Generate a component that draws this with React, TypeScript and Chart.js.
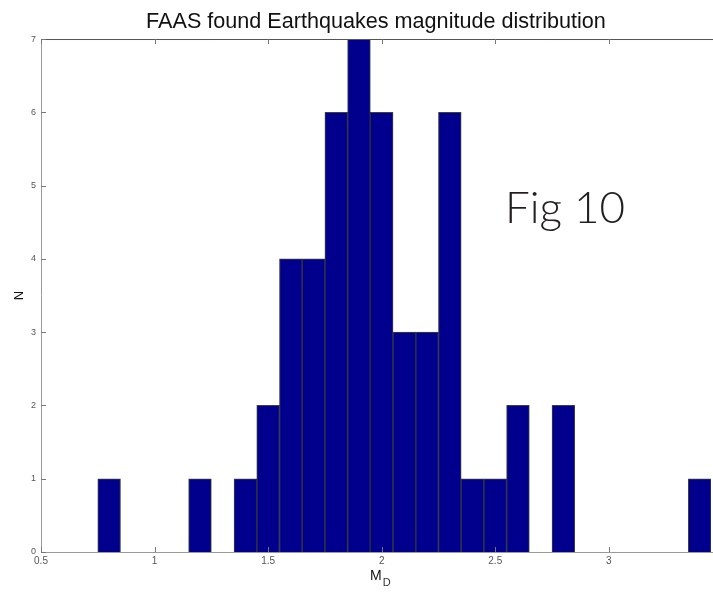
import React, { useEffect, useRef } from "react";
import { Chart, registerables } from "chart.js";

Chart.register(...registerables);

const binCenters = [0.8, 0.9, 1.0, 1.1, 1.2, 1.3, 1.4, 1.5, 1.6, 1.7, 1.8, 1.9, 2.0, 2.1, 2.2, 2.3, 2.4, 2.5, 2.6, 2.7, 2.8, 2.9, 3.0, 3.1, 3.2, 3.3, 3.4];
const counts = [1, 0, 0, 0, 1, 0, 1, 2, 4, 4, 6, 7, 6, 3, 3, 6, 1, 1, 2, 0, 2, 0, 0, 0, 0, 0, 1];
const xTicks = [0.5, 1, 1.5, 2, 2.5, 3];
const yTicks = [0, 1, 2, 3, 4, 5, 6, 7];
const titleText = "FAAS found Earthquakes magnitude distribution";
const yLabel = "N";
const xLabelMain = "M";
const xLabelSub = "D";
const annotationText = "Fig 10";

const X_MIN = 0.5;
const X_MAX = 3.45;

const decorPlugin = {
  id: "decor",
  afterDatasetsDraw(chart: any) {
    const { ctx, chartArea, scales } = chart;
    const { left, right, top, bottom } = chartArea;
    ctx.save();
    // box lines
    ctx.lineWidth = 1;
    ctx.strokeStyle = "#9a9a9a";
    ctx.beginPath();
    ctx.moveTo(left + 0.5, top);
    ctx.lineTo(left + 0.5, bottom);
    ctx.moveTo(left, bottom + 0.5);
    ctx.lineTo(chart.width, bottom + 0.5);
    ctx.stroke();
    ctx.strokeStyle = "#555555";
    ctx.beginPath();
    ctx.moveTo(left, top + 0.5);
    ctx.lineTo(chart.width, top + 0.5);
    ctx.stroke();
    // inward ticks
    ctx.strokeStyle = "#777777";
    ctx.beginPath();
    xTicks.forEach((v) => {
      const px = Math.round(scales.x.getPixelForValue(v)) + 0.5;
      ctx.moveTo(px, bottom);
      ctx.lineTo(px, bottom - 5);
      ctx.moveTo(px, top);
      ctx.lineTo(px, top + 5);
    });
    yTicks.forEach((v) => {
      const py = Math.round(scales.y.getPixelForValue(v)) + 0.5;
      ctx.moveTo(left, py);
      ctx.lineTo(left + 5, py);
    });
    ctx.stroke();
    ctx.restore();
  },
  afterDraw(chart: any) {
    const { ctx, chartArea } = chart;
    ctx.save();
    // x axis label with subscript
    const cx = (chartArea.left + chartArea.right) / 2;
    ctx.fillStyle = "#111";
    ctx.textBaseline = "alphabetic";
    ctx.textAlign = "left";
    ctx.font = "14px 'Liberation Sans', Arial, sans-serif";
    const mW = ctx.measureText(xLabelMain).width;
    const mx = cx - 6;
    ctx.fillText(xLabelMain, mx, 580);
    ctx.font = "11px 'Liberation Sans', Arial, sans-serif";
    ctx.fillStyle = "#333";
    ctx.fillText(xLabelSub, mx + mW + 1, 586);
    // annotation
    ctx.fillStyle = "#231f20";
    ctx.font = "300 44px Lato, 'Open Sans', sans-serif";
    ctx.fillText(annotationText, 505, 223);
    ctx.restore();
  },
};

export default function App() {
  const ref = useRef<HTMLCanvasElement | null>(null);
  useEffect(() => {
    if (!ref.current) return;
    const data = binCenters
      .map((x, i) => ({ x, y: counts[i] }))
      .filter((d) => d.y > 0);
    const chart = new Chart(ref.current, {
      type: "bar",
      data: {
        datasets: [
          {
            data: data as any,
            backgroundColor: "#00008c",
            borderColor: "rgba(0,0,0,0.75)",
            borderWidth: 1,
            barPercentage: 1,
            categoryPercentage: 1,
          },
        ],
      },
      options: {
        responsive: false,
        animation: false,
        layout: { padding: { left: 0, right: 2, top: 0, bottom: 0 } },
        plugins: {
          legend: { display: false },
          tooltip: { enabled: false },
          title: {
            display: true,
            fullSize: false,
            text: titleText,
            color: "#111",
            font: { family: "'Liberation Sans', Arial, sans-serif", size: 21.6, weight: "normal" },
            padding: { top: 9, bottom: 4.1 },
          },
        },
        scales: {
          x: {
            type: "linear",
            min: X_MIN,
            max: X_MAX,
            offset: false,
            grid: { display: false, drawTicks: false },
            border: { display: false },
            afterBuildTicks: (s: any) => {
              s.ticks = xTicks.map((v) => ({ value: v }));
            },
            afterFit: (s: any) => {
              s.height = 48;
            },
            ticks: {
              color: "#555",
              padding: 3,
              maxRotation: 0,
              autoSkip: false,
              font: { family: "'Liberation Sans', Arial, sans-serif", size: 10 },
              callback: (v: any) => String(Number(v)),
            },
          },
          y: {
            min: 0,
            max: 7,
            grid: { display: false, drawTicks: false },
            border: { display: false },
            afterBuildTicks: (s: any) => {
              s.ticks = yTicks.map((v) => ({ value: v }));
            },
            afterFit: (s: any) => {
              s.width = 41;
            },
            ticks: {
              color: "#555",
              padding: 5,
              font: { family: "'Liberation Sans', Arial, sans-serif", size: 9 },
              callback: (v: any) => String(Number(v)),
            },
            title: {
              display: true,
              text: yLabel,
              color: "#111",
              font: { family: "'Liberation Sans', Arial, sans-serif", size: 13 },
              padding: { top: 12, bottom: 0 },
            },
          },
        },
      },
      plugins: [decorPlugin],
    });
    return () => chart.destroy();
  }, []);
  return (
    <div style={{ position: "absolute", left: 0, top: 0, width: 713, height: 600, background: "#fff" }}>
      <canvas ref={ref} width={713} height={600} />
    </div>
  );
}
